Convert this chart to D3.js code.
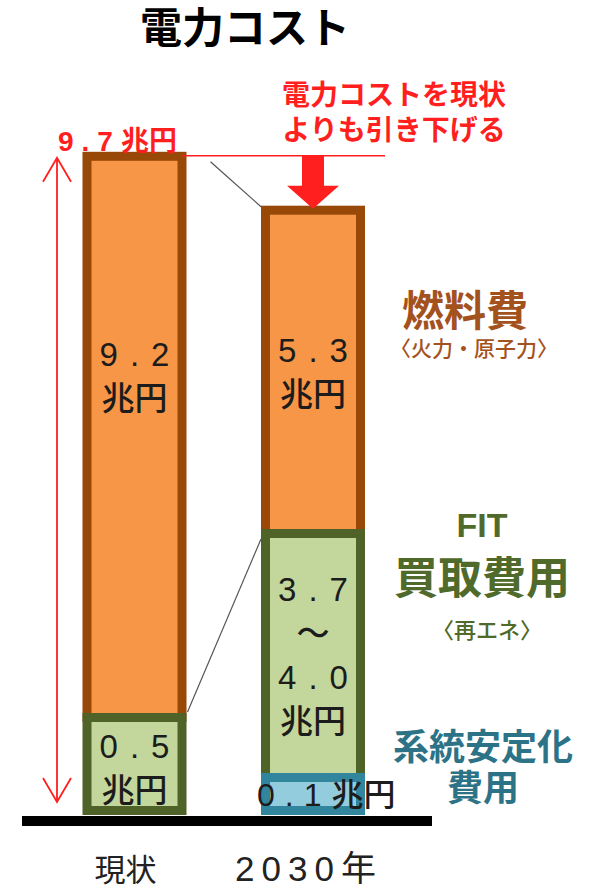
<!DOCTYPE html>
<html lang="ja">
<head>
<meta charset="utf-8">
<script src="https://cdn.jsdelivr.net/npm/d3@7/dist/d3.min.js"></script>
<style>
  html, body { margin: 0; padding: 0; background: #fff; }
  svg { display: block; font-family: "Liberation Sans", "Noto Sans CJK JP", sans-serif; }
</style>
</head>
<body>
<svg id="chart" width="590" height="888"></svg>
<script>
// ---- data (兆円) ----
const categories  = ["現状", "2030年"];
const fuelCost    = [9.2, 5.3];   // 燃料費（火力・原子力）
const fitCostLow  = [0.5, 3.7];   // FIT買取費用（再エネ）下限
const fitCostHigh = [0.5, 4.0];   // FIT買取費用（再エネ）上限
const gridCost    = [0, 0.1];     // 系統安定化費用
const totalNow    = [9.7];        // 現状の電力コスト合計

const chartTitle   = "電力コスト";
const messageLines = ["電力コストを現状", "よりも引き下げる"];
const seriesTitles = [["燃料費"], ["FIT", "買取費用"], ["系統安定化", "費用"]];
const seriesNotes  = ["〈火力・原子力〉", "〈再エネ〉", ""];
const unit = "兆円";

// ---- styles ----
const palette = {
  fuel: { fill: "#f79646", stroke: "#984807", text: "#a4521d" },
  fit:  { fill: "#c3d69b", stroke: "#4f6228", text: "#4f6a2a" },
  grid: { fill: "#93cddd", stroke: "#31859c", text: "#2d7387" }
};
const red = "#ff1f1f";
const ink = "#1c1c1c";

const svg = d3.select("#chart");

// ---- scales ----
const y = d3.scaleLinear().domain([0, 10]).range([815, 205]);
const x = d3.scalePoint().domain(categories).range([134.5, 313]);
const pxPerUnit = y(0) - y(1);
const barW = 104;
const sw = 9;                       // segment border width
const minSegPx = { 1: 42, 2: 102 }; // minimum segment height by label line count
const lineGap = 44;
const midToBase = 0.37;             // baseline offset from a glyph's visual centre (em)

const fmt = v => v.toFixed(1);

// build stacked segments (bottom -> top)
const bars = categories.map((cat, i) => {
  const segs = [];
  if (gridCost[i] > 0) {
    segs.push({ key: "grid", value: gridCost[i], inline: fmt(gridCost[i]), lines: [fmt(gridCost[i]) + unit] });
  }
  const fitLines = fitCostLow[i] === fitCostHigh[i]
    ? [fmt(fitCostHigh[i]), unit]
    : [fmt(fitCostLow[i]), "～", fmt(fitCostHigh[i]), unit];
  segs.push({ key: "fit", value: fitCostHigh[i], lines: fitLines });
  segs.push({ key: "fuel", value: fuelCost[i], lines: [fmt(fuelCost[i]), unit] });

  let base = y(0);
  segs.forEach((s, j) => {
    const h = Math.max(s.value * pxPerUnit, minSegPx[s.lines.length] || 0);
    s.bottom = base;
    s.top = base - h;
    s.isBottom = j === 0;
    base = s.top;
  });
  const cx = x(cat);
  return { cat, cx, left: cx - barW / 2, right: cx + barW / 2, segs, top: base };
});

// ---- title ----
svg.append("text")
  .attr("x", 245).attr("y", 43)
  .attr("text-anchor", "middle")
  .attr("font-size", 42).attr("font-weight", 700).attr("fill", "#000")
  .text(chartTitle);

// ---- bars ----
bars.forEach(b => {
  const g = svg.append("g");
  // upper segments first so the lower segment's border covers each seam
  b.segs.slice().reverse().forEach(s => {
    const c = palette[s.key];
    const ext = s.isBottom ? 0 : sw;
    g.append("rect")
      .attr("x", b.left + sw / 2)
      .attr("y", s.top + sw / 2)
      .attr("width", barW - sw)
      .attr("height", s.bottom - s.top + ext - sw)
      .attr("fill", c.fill)
      .attr("stroke", c.stroke)
      .attr("stroke-width", sw);
  });
});

// ---- connectors between the bars ----
const b0 = bars[0], b1 = bars[1];
const fit0 = b0.segs.find(s => s.key === "fit");
const fit1 = b1.segs.find(s => s.key === "fit");
svg.append("line")
  .attr("x1", b0.right + 24).attr("y1", b0.top + 10)
  .attr("x2", b1.left).attr("y2", b1.top + 1)
  .attr("stroke", "#555").attr("stroke-width", 1.2);
svg.append("line")
  .attr("x1", b0.right + 1).attr("y1", fit0.top - 1)
  .attr("x2", b1.left).attr("y2", fit1.top + 10)
  .attr("stroke", "#555").attr("stroke-width", 1.2);

// ---- current total: reference line, span arrow, label ----
const refY = b0.top + 4;
svg.append("line")
  .attr("x1", b0.right - 4).attr("y1", refY)
  .attr("x2", 385).attr("y2", refY)
  .attr("stroke", red).attr("stroke-width", 1.4);

const ax = 57, aTop = b0.top + 6, aBot = y(0) - 13;
svg.append("path")
  .attr("d", `M${ax},${aTop}V${aBot}` +
             `M${ax - 14},${aTop + 24}L${ax},${aTop}L${ax + 14},${aTop + 24}` +
             `M${ax - 14},${aBot - 24}L${ax},${aBot}L${ax + 14},${aBot - 24}`)
  .attr("fill", "none").attr("stroke", red).attr("stroke-width", 1.8);

const totalLabel = svg.append("text")
  .attr("x", 58).attr("y", 151)
  .attr("font-size", 28).attr("font-weight", 700).attr("fill", red);
totalLabel.append("tspan").attr("letter-spacing", 8).text(fmt(totalNow[0]));
totalLabel.append("tspan").attr("letter-spacing", 0).text(unit);

// ---- reduction arrow and message ----
const tip = b1.top + 3, headBase = tip - 23;
svg.append("path")
  .attr("d", `M${b1.cx - 11},${refY}H${b1.cx + 11}V${headBase}H${b1.cx + 26}` +
             `L${b1.cx},${tip}L${b1.cx - 26},${headBase}H${b1.cx - 11}Z`)
  .attr("fill", red);

messageLines.forEach((t, i) => {
  svg.append("text")
    .attr("x", 394).attr("y", 105 + i * 35)
    .attr("text-anchor", "middle")
    .attr("font-size", 28).attr("font-weight", 700).attr("fill", red)
    .text(t);
});

// ---- value labels inside the bars ----
const isNumber = t => /^[0-9.]+$/.test(t);
bars.forEach(b => {
  b.segs.forEach(s => {
    if (s.inline) {
      const fs = 32;
      const t = svg.append("text")
        .attr("x", b.left - 4).attr("y", (s.top + s.bottom) / 2 + midToBase * fs)
        .attr("font-size", fs).attr("font-weight", 500).attr("fill", ink);
      t.append("tspan").attr("letter-spacing", 10).text(s.inline);
      t.append("tspan").text(unit);
      return;
    }
    const fs = 33;
    const mid = (s.top + s.bottom) / 2;
    const c = (s.key === "fuel" ? Math.min(mid, s.top + 220) : mid) + 4;
    const n = s.lines.length;
    s.lines.forEach((line, i) => {
      const num = isNumber(line);
      svg.append("text")
        .attr("x", b.cx + (num ? 6 : 0))
        .attr("y", c + (i - (n - 1) / 2) * lineGap + midToBase * fs)
        .attr("text-anchor", "middle")
        .attr("letter-spacing", num ? 12 : 0)
        .attr("font-size", fs).attr("font-weight", 500).attr("fill", ink)
        .text(line);
    });
  });
});

// ---- baseline ----
svg.append("line")
  .attr("x1", 22).attr("x2", 432)
  .attr("y1", y(0) + 6).attr("y2", y(0) + 6)
  .attr("stroke", "#000").attr("stroke-width", 10);

// ---- category labels ----
categories.forEach((c, i) => {
  svg.append("text")
    .attr("x", x(c) - (i === 0 ? 9 : 4)).attr("y", 881)
    .attr("text-anchor", "middle")
    .attr("letter-spacing", i === 0 ? 0 : 7)
    .attr("font-size", i === 0 ? 31 : 35).attr("font-weight", 400).attr("fill", "#222")
    .text(c);
});

// ---- series names on the right ----
const seriesKeys = ["fuel", "fit", "grid"];
const nameLayout = [
  { cx: 465, base: [326],       size: [42],     note: 356, noteSize: 21, noteCx: 474 },
  { cx: 482, base: [537, 594],  size: [34, 44], note: 638, noteSize: 22, noteCx: 487 },
  { cx: 483, base: [760, 801],  size: [36, 36], note: null }
];
seriesKeys.forEach((k, i) => {
  const L = nameLayout[i];
  seriesTitles[i].forEach((t, j) => {
    svg.append("text")
      .attr("x", L.cx).attr("y", L.base[j])
      .attr("text-anchor", "middle")
      .attr("font-size", L.size[j]).attr("font-weight", 700)
      .attr("fill", palette[k].text)
      .text(t);
  });
  if (seriesNotes[i]) {
    svg.append("text")
      .attr("x", L.noteCx).attr("y", L.note)
      .attr("text-anchor", "middle")
      .attr("font-size", L.noteSize).attr("font-weight", 500)
      .attr("fill", palette[k].text)
      .text(seriesNotes[i]);
  }
});
</script>
</body>
</html>
